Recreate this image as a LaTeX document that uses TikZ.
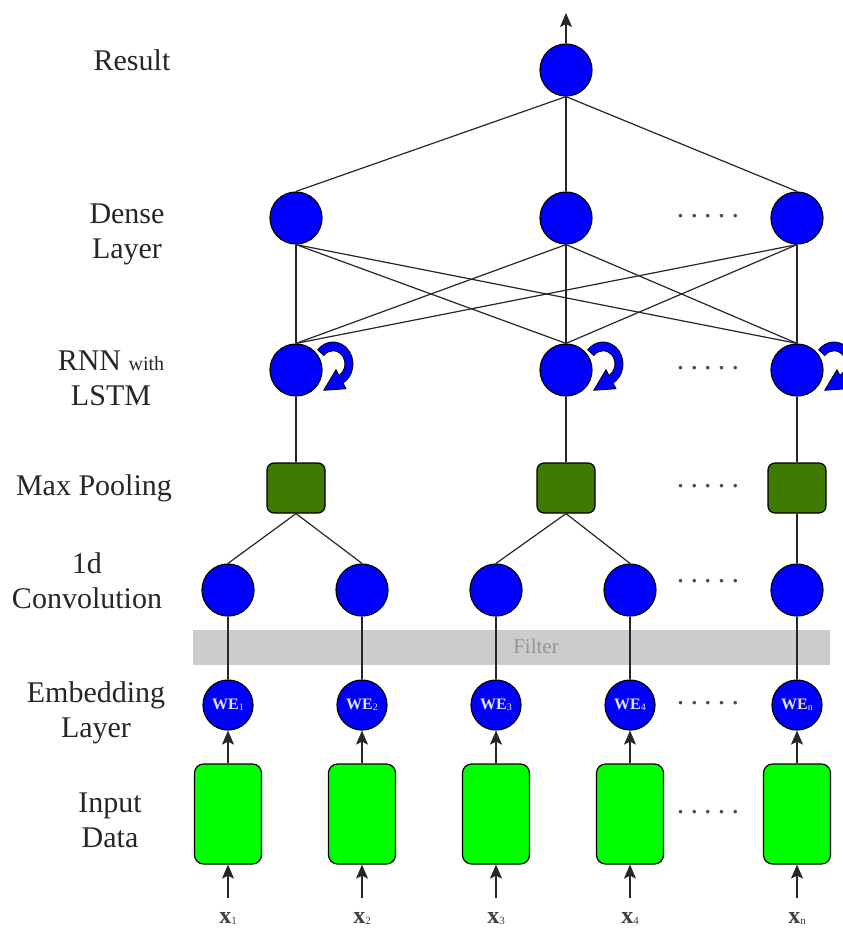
\documentclass[tikz,border=0pt]{standalone}
\usepackage{fontspec}
\setmainfont{Liberation Serif}
\usetikzlibrary{arrows.meta}

\definecolor{nodeblue}{RGB}{0,0,255}
\definecolor{poolgreen}{RGB}{64,122,0}
\definecolor{inputgreen}{RGB}{0,255,0}
\definecolor{bandgray}{RGB}{204,204,204}
\definecolor{filtertext}{RGB}{150,150,150}
\definecolor{wetext}{RGB}{228,228,255}

\newcommand\fivedots{.\hspace{6.2pt}.\hspace{6.2pt}.\hspace{6.2pt}.\hspace{6.2pt}.}
\newcommand\wesub[1]{\raisebox{-1.5pt}{\fontsize{10}{10}\selectfont\mdseries #1}}
\newcommand\xsub[1]{\raisebox{-1pt}{\fontsize{11}{11}\selectfont\mdseries #1}}

\tikzset{
  neuron/.style={circle, draw=black, line width=1.2pt, fill=nodeblue,
    minimum size=52pt, inner sep=0pt},
  embed/.style={neuron, minimum size=50pt,
    font=\fontsize{16}{16}\selectfont\bfseries, text=wetext},
  pool/.style={rectangle, rounded corners=7pt, draw=black, line width=1.2pt,
    fill=poolgreen, minimum width=58pt, minimum height=50pt},
  inbox/.style={rectangle, rounded corners=9pt, draw=black, line width=1.2pt,
    fill=inputgreen, minimum width=67pt, minimum height=100pt},
  layerlabel/.style={align=center, font=\fontsize{30}{35}\selectfont, text=black!85},
  xlabel/.style={anchor=base, font=\fontsize{24}{24}\selectfont\bfseries, text=black!75},
  link/.style={draw=black!85, line width=1.2pt},
  feed/.style={link, -{Stealth[length=14pt,width=12pt,inset=3pt]}},
  dotrow/.style={font=\fontsize{30}{30}\selectfont, text=black!70, inner sep=0pt},
  band/.style={rectangle, fill=bandgray, draw=none, minimum width=637pt,
    minimum height=35pt, inner sep=0pt},
  recur/.pic={
    \filldraw[yscale=1.1, fill=nodeblue, draw=black, line width=0.8pt]
      (140:20) arc[start angle=140, end angle=-60, radius=20]
      -- (-60:26) -- (-9.3,-23.9) -- (-60:6)
      -- (-60:12) arc[start angle=-60, end angle=140, radius=12] -- cycle;
  }
}

\begin{document}
\begin{tikzpicture}[x=1pt,y=1pt]
\useasboundingbox (0,0) rectangle (843,-929);

% layer names
\node[layerlabel] (lres)   at (132,-60)  {Result};
\node[layerlabel] (ldense) at (127,-234) {Dense\\Layer};
\node[layerlabel] (lrnn)   at (111,-378) {RNN {\fontsize{20}{20}\selectfont with}\\LSTM};
\node[layerlabel] (lpool)  at (94,-488)  {Max Pooling};
\node[layerlabel] (lconv)  at (87,-581)  {1d\\Convolution};
\node[layerlabel] (lemb)   at (96,-713)  {Embedding\\Layer};
\node[layerlabel] (linput) at (110,-820) {Input\\Data};

% filter band behind the convolution inputs
\node[band] (filter) at (511.5,-647) {};
\node[font=\fontsize{21}{21}\selectfont, text=filtertext] (filterlabel) at (536,-646) {Filter};

% output
\node[neuron] (result) at (566,-70) {};
\coordinate (out) at (566,-13);

% dense layer
\node[neuron] (d1) at (296,-218) {};
\node[neuron] (d2) at (566,-218) {};
\node[neuron] (d3) at (797,-218) {};

% recurrent layer
\node[neuron] (r1) at (296,-370) {};
\node[neuron] (r2) at (566,-370) {};
\node[neuron] (r3) at (797,-370) {};
\pic at (333,-364) {recur};
\pic at (603,-364) {recur};
\pic at (834,-364) {recur};

% max pooling
\node[pool] (p1) at (296,-488) {};
\node[pool] (p2) at (566,-488) {};
\node[pool] (p3) at (797,-488) {};

% convolution
\node[neuron] (c1) at (228,-590) {};
\node[neuron] (c2) at (362,-590) {};
\node[neuron] (c3) at (496,-590) {};
\node[neuron] (c4) at (630,-590) {};
\node[neuron] (c5) at (797,-590) {};

% embeddings
\node[embed] (e1) at (228,-705) {WE\wesub{1}};
\node[embed] (e2) at (362,-705) {WE\wesub{2}};
\node[embed] (e3) at (496,-705) {WE\wesub{3}};
\node[embed] (e4) at (630,-705) {WE\wesub{4}};
\node[embed] (e5) at (797,-705) {WE\wesub{n}};

% inputs
\node[inbox] (b1) at (228,-814) {};
\node[inbox] (b2) at (362,-814) {};
\node[inbox] (b3) at (496,-814) {};
\node[inbox] (b4) at (630,-814) {};
\node[inbox] (b5) at (797,-814) {};

\coordinate (i1) at (228,-898);
\coordinate (i2) at (362,-898);
\coordinate (i3) at (496,-898);
\coordinate (i4) at (630,-898);
\coordinate (i5) at (797,-898);

\node[xlabel] (x1) at (228,-923) {x\xsub{1}};
\node[xlabel] (x2) at (362,-923) {x\xsub{2}};
\node[xlabel] (x3) at (496,-923) {x\xsub{3}};
\node[xlabel] (x4) at (630,-923) {x\xsub{4}};
\node[xlabel] (x5) at (797,-923) {x\xsub{n}};

% ellipses between the last two columns
\node[dotrow] (dd) at (708,-216) {\fivedots};
\node[dotrow] (dr) at (708,-368) {\fivedots};
\node[dotrow] (dp) at (708,-486) {\fivedots};
\node[dotrow] (dc) at (708,-581) {\fivedots};
\node[dotrow] (de) at (708,-703) {\fivedots};
\node[dotrow] (db) at (708,-812) {\fivedots};

% connections
\draw[feed] (result.north) -- (out);
\foreach \i in {1,2,3} {
  \draw[link] (d\i.north) -- (result.south);
  \foreach \j in {1,2,3} {
    \draw[link] (r\i.north) -- (d\j.south);
  }
  \draw[link] (p\i.north) -- (r\i.south);
}
\draw[link] (c1.north) -- (p1.south);
\draw[link] (c2.north) -- (p1.south);
\draw[link] (c3.north) -- (p2.south);
\draw[link] (c4.north) -- (p2.south);
\draw[link] (c5.north) -- (p3.south);
\foreach \k in {1,...,5} {
  \draw[link] (e\k.north) -- (c\k.south);
  \draw[feed] (b\k.north) -- (e\k.south);
  \draw[feed] (i\k) -- (b\k.south);
}
\end{tikzpicture}
\end{document}
